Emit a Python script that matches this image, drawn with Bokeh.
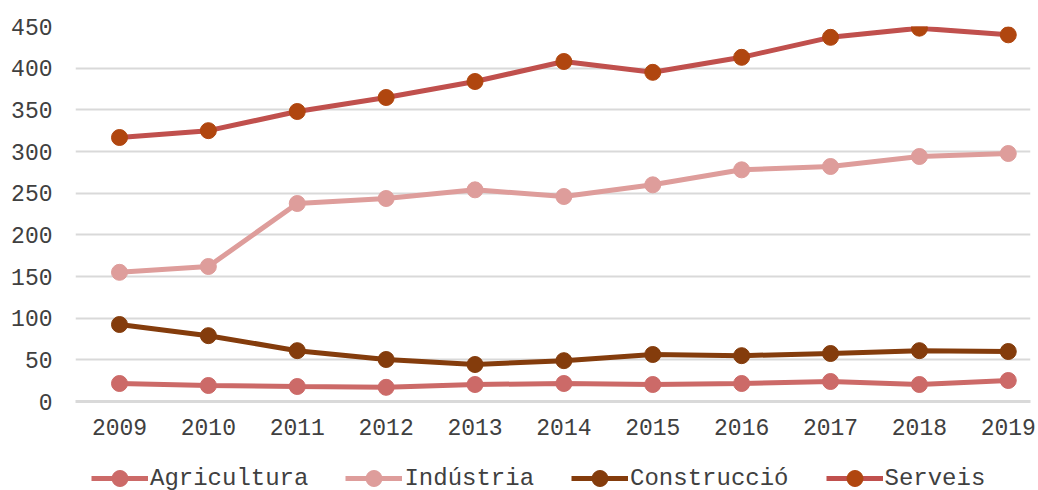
from bokeh.plotting import figure
from bokeh.models import Range1d, FixedTicker, Legend, LegendItem
from bokeh.layouts import column
from bokeh.embed import file_html
from bokeh.resources import INLINE

years = [2009, 2010, 2011, 2012, 2013, 2014, 2015, 2016, 2017, 2018, 2019]
agricultura = [21.6, 19.2, 18.0, 17.0, 20.4, 21.6, 20.4, 21.6, 24.0, 20.4, 25.2]
industria = [155, 162, 237.6, 243.6, 254, 246, 260, 278, 282, 294, 297.6]
construccio = [92.4, 79, 61, 50.4, 44.4, 49, 56.4, 55, 57.6, 61, 60]
serveis = [316.8, 325, 348, 364.8, 384, 408, 395, 413, 437, 448, 440]

names = ["Agricultura", "Indústria", "Construcció", "Serveis"]
series = [agricultura, industria, construccio, serveis]
line_colors = ["#CC6A68", "#DE9D9B", "#843C0C", "#C0504D"]
marker_colors = ["#CC6A68", "#DE9D9B", "#843C0C", "#B0460F"]
y_ticks = [0, 50, 100, 150, 200, 250, 300, 350, 400, 450]

FONT = "Liberation Mono"
FS = "23px"
TXT = "#404040"

p = figure(width=1036, height=450, output_backend="svg", toolbar_location=None,
           x_range=Range1d(years[0] - 0.495, years[-1] + 0.25),
           y_range=Range1d(0, 450),
           min_border_left=75, min_border_right=6, min_border_top=26,
           min_border_bottom=49,
           background_fill_color="white", border_fill_color="white")
p.outline_line_color = None

for name, vals, lc, mc in zip(names, series, line_colors, marker_colors):
    p.line(years, vals, line_color=lc, line_width=5)
    p.scatter(years, vals, size=16, fill_color=mc, line_color=mc)

p.xaxis.ticker = FixedTicker(ticks=years)
p.yaxis.ticker = FixedTicker(ticks=y_ticks)
p.xgrid.grid_line_color = None
p.ygrid.grid_line_color = "#D9D9D9"
p.ygrid.grid_line_width = 2

for ax in (p.xaxis, p.yaxis):
    ax.major_tick_line_color = None
    ax.minor_tick_line_color = None
    ax.major_tick_out = 0
    ax.major_tick_in = 0
    ax.minor_tick_out = 0
    ax.minor_tick_in = 0
    ax.major_label_text_font = FONT
    ax.major_label_text_font_size = FS
    ax.major_label_text_color = TXT
p.yaxis.axis_line_color = None
p.yaxis.major_label_standoff = 23
p.xaxis.axis_line_color = "#D9D9D9"
p.xaxis.axis_line_width = 3
p.xaxis.major_label_standoff = 17

# legend row, drawn in its own strip below the chart (series data lie outside its ranges)
pl = figure(width=1036, height=40, output_backend="svg", toolbar_location=None,
            x_range=Range1d(0, 1), y_range=Range1d(0, 1),
            x_axis_location=None, y_axis_location=None,
            min_border_left=0, min_border_right=0, min_border_top=0, min_border_bottom=0,
            background_fill_color="white", border_fill_color="white")
pl.outline_line_color = None
pl.grid.visible = False

items = []
for name, vals, lc, mc in zip(names, series, line_colors, marker_colors):
    r1 = pl.line(years, vals, line_color=lc, line_width=5)
    r2 = pl.scatter(years, vals, size=16, fill_color=mc, line_color=mc)
    items.append(LegendItem(label=name, renderers=[r1, r2]))

legend = Legend(items=items, orientation="horizontal", location=(16, -8),
                glyph_width=57, glyph_height=40, label_standoff=2, spacing=37,
                label_text_font=FONT, label_text_font_size="24px", label_text_color=TXT,
                border_line_color=None, background_fill_alpha=0, padding=0, margin=0)
pl.add_layout(legend, "center")

layout = column(p, pl, spacing=0)
open("out.html", "w").write(file_html(layout, INLINE))
